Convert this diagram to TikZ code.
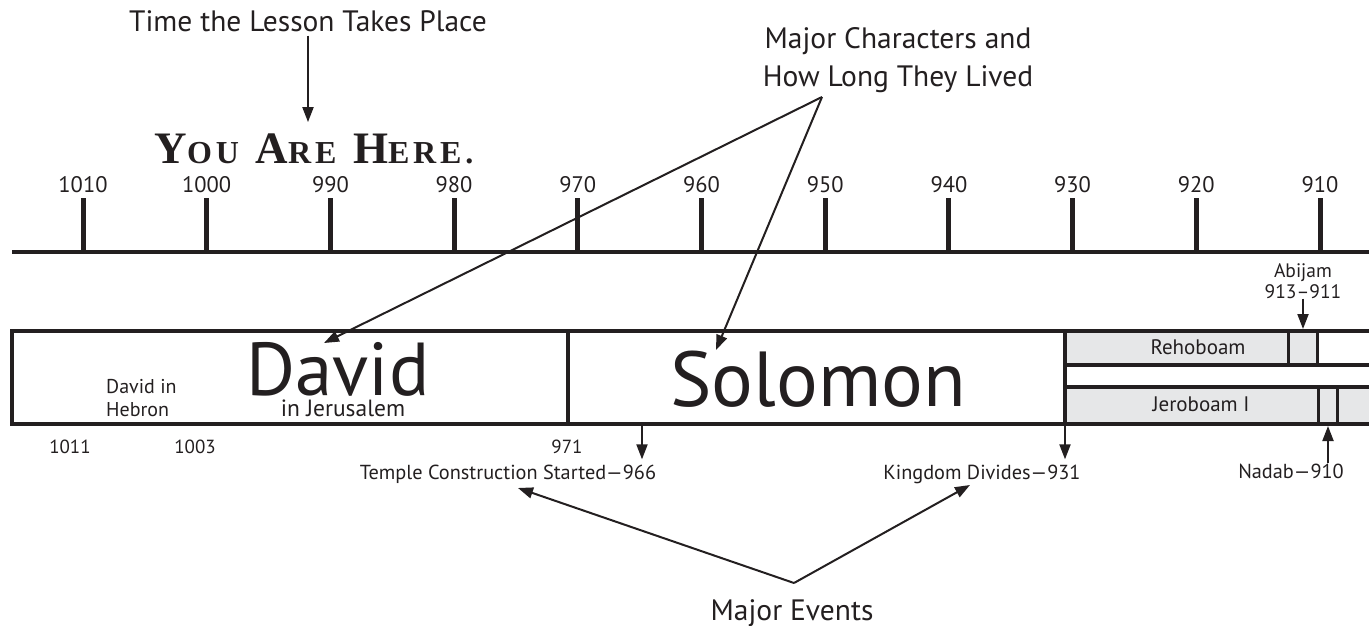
\documentclass[tikz,border=0pt]{standalone}
\usepackage{fontspec}
\setmainfont{PT Sans}
\newfontfamily\herefont[LetterSpace=12]{Liberation Serif}
\usepackage{tikz}
\usetikzlibrary{positioning}
\usetikzlibrary{calc}
\usetikzlibrary{arrows.meta}

\definecolor{ink}{RGB}{35,31,32}
\definecolor{reign}{RGB}{230,231,232}

\newcommand{\capsize}[1]{{\fontsize{32}{32}\selectfont #1}}

\begin{document}
\begin{tikzpicture}[x=1pt, y=-1pt,
    every node/.style={text=ink, inner sep=0pt},
    rule/.style={line width=4.5pt, draw=ink},
    tickmark/.style={line width=5pt, draw=ink},
    divider/.style={line width=3pt, draw=ink},
    pointer/.style={line width=2pt, draw=ink, -{Triangle[length=15pt, width=11pt]}},
    small/.style={font=\fontsize{20.3}{23}\selectfont},
    year/.style={font=\fontsize{22.5}{22.5}\selectfont, anchor=base},
    huge/.style={font=\fontsize{75}{75}\selectfont, anchor=base},
    heading/.style={font=\fontsize{29.5}{38}\selectfont, align=center}]
  \useasboundingbox (0,0) rectangle (1369,626);

  \draw[rule, line width=4pt] (12,252) -- (1369,252);
  \foreach \year [count=\i from 0] in {1010,1000,...,910}
  {
    \draw[tickmark] (83+123.7*\i,198) -- (83+123.7*\i,252);
    \node[year] (y\year) at (83+123.7*\i,192) {\year};
  }

  \fill[reign] (1065,331) rectangle (1317,365);
  \fill[reign] (1065,387) rectangle (1369,424);
  \draw[rule] (1369,331) -- (12,331) -- (12,424) -- (1369,424);
  \draw[rule] (1065,365) -- (1369,365);
  \draw[rule] (1065,387) -- (1369,387);
  \draw[rule] (568,331) -- (568,424);
  \draw[rule] (1065,331) -- (1065,424);
  \draw[divider] (1288,331) -- (1288,365);
  \draw[divider] (1317,331) -- (1317,365);
  \draw[divider] (1318,387) -- (1318,424);
  \draw[divider] (1337,387) -- (1337,424);

  \node[huge] (david) at (338,395) {David};
  \node[huge, font=\fontsize{78}{78}\selectfont] (solomon) at (818,406) {Solomon};
  \node[small, font=\fontsize{20}{23}\selectfont, align=left, anchor=north west] (hebron) at (106,379) {David in\\Hebron};
  \node[small, font=\fontsize{23.5}{23.5}\selectfont, anchor=base] (jerusalem) at (343,416) {in Jerusalem};
  \node[small, font=\fontsize{21}{21}\selectfont, anchor=base] (rehoboam) at (1198,354) {Rehoboam};
  \node[small, font=\fontsize{21}{21}\selectfont, anchor=base] (jeroboam) at (1201,411) {Jeroboam I};

  \node[year, font=\fontsize{19}{19}\selectfont] (b1011) at (70,453) {1011};
  \node[year, font=\fontsize{19}{19}\selectfont] (b1003) at (195,453) {1003};
  \node[year, font=\fontsize{19}{19}\selectfont] (b971) at (567,453) {971};

  \node[small, anchor=base] (temple) at (508,479) {Temple Construction Started—966};
  \node[small, anchor=base] (divides) at (982,479) {Kingdom Divides—931};
  \node[small, align=center, anchor=north, font=\fontsize{19.5}{21}\selectfont] (abijam) at (1303,263) {Abijam\\913–911};
  \node[small, anchor=base] (nadab) at (1291,478) {Nadab—910};

  \node[heading, anchor=base] (time) at (308,32) {Time the Lesson Takes Place};
  \node[anchor=base, font=\herefont\bfseries\fontsize{45}{45}\selectfont] (here) at (314,163) {Y\capsize{OU} A\capsize{RE} H\capsize{ERE.}};
  \node[heading, anchor=north] (chars) at (898,27) {Major Characters and\\How Long They Lived};
  \node[heading, anchor=base] (events) at (792,620) {Major Events};

  \coordinate (chartop) at (822,97);
  \coordinate (davidtip) at (324,343);
  \coordinate (solomontip) at (716,350);
  \draw[pointer] (chartop) -- (davidtip);
  \draw[pointer] (chartop) -- (solomontip);

  \coordinate (eventtop) at (794,583);
  \coordinate (templetip) at (518,488);
  \coordinate (dividestip) at (970,485);
  \draw[pointer] (eventtop) -- (templetip);
  \draw[pointer] (eventtop) -- (dividestip);

  \coordinate (y966) at (642,424);
  \coordinate (y931) at (1065,424);
  \coordinate (abijamtip) at (1303,329);
  \coordinate (nadabtip) at (1328,426);
  \draw[pointer, shorten <=3pt, shorten >=11pt] (time.south -| 308,0) -- (here.north -| 308,0);
  \draw[pointer, shorten >=5pt] (y966) -- (y966 |- temple.north);
  \draw[pointer, shorten >=5pt] (y931) -- (y931 |- divides.north);
  \draw[pointer] (abijam.south) -- (abijamtip);
  \draw[pointer] (nadab.north -| nadabtip) -- (nadabtip);
\end{tikzpicture}
\end{document}
